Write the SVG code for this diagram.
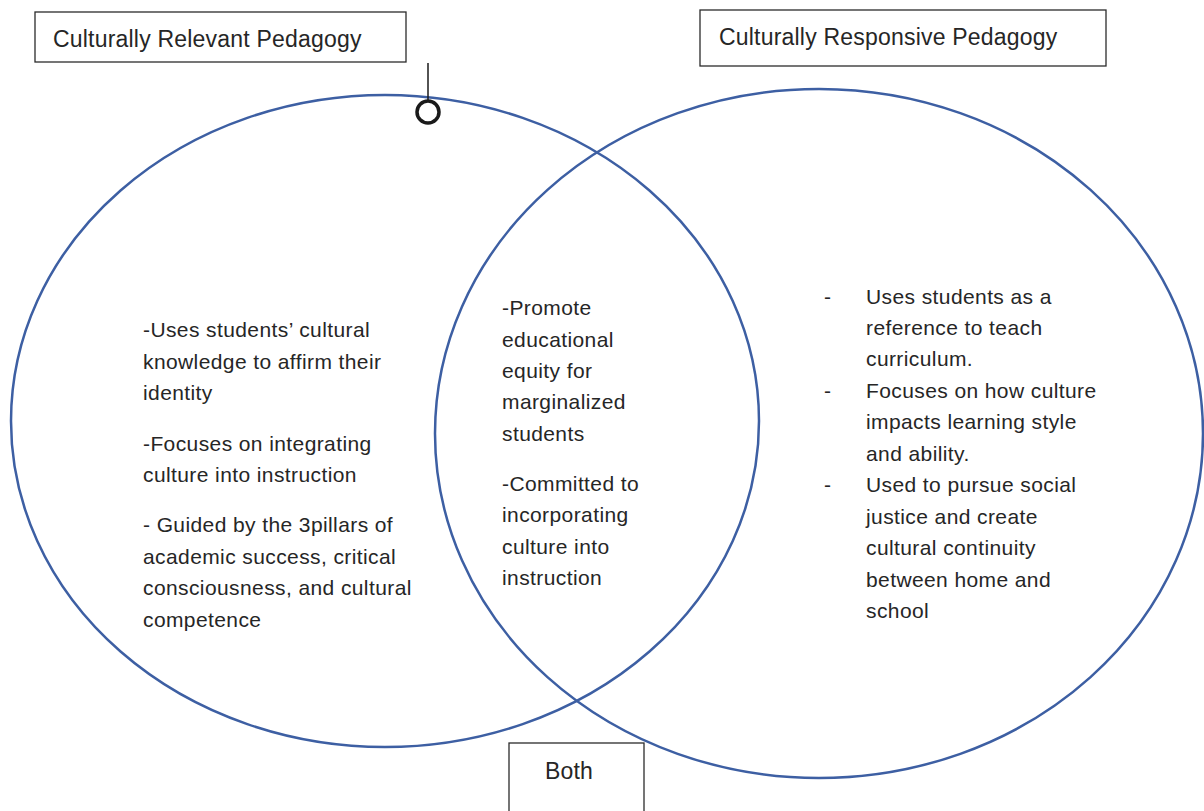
<svg xmlns="http://www.w3.org/2000/svg" width="1204" height="811" viewBox="0 0 1204 811">
  <style>
    .ring { fill: none; stroke: #3d5fa3; stroke-width: 2.5; }
    .box { fill: #ffffff; stroke: #2b2b2b; stroke-width: 1.3; }
    .title { font-family: "Liberation Sans", Arial, sans-serif; font-size: 23px; letter-spacing: 0.2px; fill: #262626; }
    .body { font-family: "Liberation Sans", Arial, sans-serif; font-size: 21px; letter-spacing: 0.4px; fill: #262626; }
  </style>

  <rect width="1204" height="811" fill="#ffffff"/>

  <!-- Venn sets -->
  <g id="set-relevant-ring">
    <ellipse class="ring" cx="385" cy="421" rx="374" ry="326"/>
  </g>
  <g id="set-responsive-ring">
    <ellipse class="ring" cx="819" cy="433.5" rx="384" ry="344.5"/>
  </g>

  <!-- Pointer from the left label to the left ring -->
  <g id="connectors">
    <line x1="428" y1="63" x2="428" y2="100" stroke="#1a1a1a" stroke-width="1.5"/>
    <circle cx="428" cy="112" r="11" fill="#ffffff" stroke="#1a1a1a" stroke-width="3.5"/>
  </g>

  <!-- Labels -->
  <g id="label-relevant">
    <rect class="box" x="35" y="12" width="371" height="50"/>
    <text class="title" x="53" y="47">Culturally Relevant Pedagogy</text>
  </g>
  <g id="label-responsive">
    <rect class="box" x="700" y="10" width="406" height="56"/>
    <text class="title" x="719" y="45">Culturally Responsive Pedagogy</text>
  </g>
  <g id="label-both">
    <rect class="box" x="509" y="743" width="135" height="80"/>
    <text class="title" x="545" y="779">Both</text>
  </g>

  <!-- Left-only region -->
  <g id="text-relevant" class="body">
    <text x="143" y="337">-Uses students’ cultural</text>
    <text x="143" y="369">knowledge to affirm their</text>
    <text x="143" y="400">identity</text>
    <text x="143" y="451">-Focuses on integrating</text>
    <text x="143" y="482">culture into instruction</text>
    <text x="143" y="532">- Guided by the 3pillars of</text>
    <text x="143" y="564">academic success, critical</text>
    <text x="143" y="595">consciousness, and cultural</text>
    <text x="143" y="627">competence</text>
  </g>

  <!-- Overlap region -->
  <g id="text-both" class="body">
    <text x="502" y="315">-Promote</text>
    <text x="502" y="347">educational</text>
    <text x="502" y="378">equity for</text>
    <text x="502" y="409">marginalized</text>
    <text x="502" y="441">students</text>
    <text x="502" y="491">-Committed to</text>
    <text x="502" y="522">incorporating</text>
    <text x="502" y="554">culture into</text>
    <text x="502" y="585">instruction</text>
  </g>

  <!-- Right-only region -->
  <g id="text-responsive" class="body">
    <text x="824" y="304">-</text>
    <text x="866" y="304">Uses students as a</text>
    <text x="866" y="335">reference to teach</text>
    <text x="866" y="366">curriculum.</text>
    <text x="824" y="398">-</text>
    <text x="866" y="398">Focuses on how culture</text>
    <text x="866" y="429">impacts learning style</text>
    <text x="866" y="461">and ability.</text>
    <text x="824" y="492">-</text>
    <text x="866" y="492">Used to pursue social</text>
    <text x="866" y="524">justice and create</text>
    <text x="866" y="555">cultural continuity</text>
    <text x="866" y="587">between home and</text>
    <text x="866" y="618">school</text>
  </g>
</svg>
